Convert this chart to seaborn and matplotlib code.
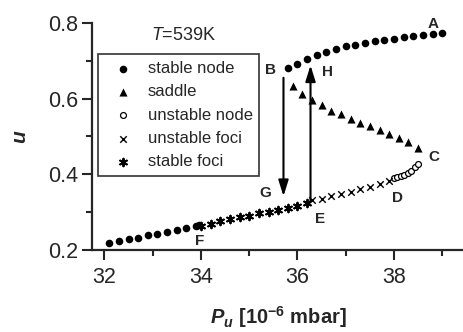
import numpy as np
import pandas as pd
import matplotlib
matplotlib.use("Agg")
import matplotlib.pyplot as plt
import seaborn as sns
from matplotlib.ticker import MultipleLocator

# ---- data ----
sn_p = [32.1, 32.3, 32.5, 32.7, 32.9, 33.1, 33.3, 33.5, 33.7, 33.9, 33.95,
        35.8, 36.0, 36.2, 36.4, 36.6, 36.8, 37.0, 37.2, 37.4, 37.6, 37.8,
        38.0, 38.2, 38.4, 38.6, 38.8, 39.0]
sn_u = [0.218, 0.223, 0.228, 0.233, 0.239, 0.243, 0.248, 0.253, 0.258, 0.263, 0.265,
        0.680, 0.691, 0.704, 0.716, 0.724, 0.730, 0.738, 0.742, 0.747, 0.751, 0.755,
        0.758, 0.762, 0.766, 0.768, 0.771, 0.774]
sd_p = [35.9, 36.1, 36.3, 36.5, 36.7, 36.9, 37.1, 37.3, 37.5, 37.7, 37.9, 38.1, 38.3, 38.5]
sd_u = [0.634, 0.611, 0.595, 0.582, 0.568, 0.559, 0.547, 0.536, 0.527, 0.516,
        0.507, 0.497, 0.485, 0.470]
un_p = [38.0, 38.07, 38.14, 38.21, 38.28, 38.35, 38.43, 38.5]
un_u = [0.389, 0.392, 0.395, 0.399, 0.404, 0.410, 0.418, 0.426]
uf_p = [36.3, 36.5, 36.7, 36.9, 37.1, 37.3, 37.5, 37.7, 37.9]
uf_u = [0.332, 0.336, 0.342, 0.348, 0.353, 0.360, 0.367, 0.374, 0.382]
sf_p = [34.0, 34.2, 34.4, 34.6, 34.8, 35.0, 35.2, 35.4, 35.6, 35.8, 36.0, 36.2]
sf_u = [0.264, 0.268, 0.277, 0.282, 0.286, 0.291, 0.297, 0.301, 0.305, 0.311, 0.316, 0.323]

point_labels = ["A", "B", "C", "D", "E", "F", "G", "H"]
label_p = [38.82, 35.45, 38.83, 38.07, 36.46, 33.97, 35.33, 36.63]
label_u = [0.797, 0.676, 0.446, 0.338, 0.282, 0.224, 0.351, 0.671]

arrow_down = (35.71, 0.655, 0.342)   # P, u_start, u_end
arrow_up = (36.27, 0.329, 0.688)

# ---- style ----
sns.set_theme(style="ticks")
plt.rcParams['font.family'] = ['Liberation Sans', 'DejaVu Sans']
plt.rcParams['mathtext.fontset'] = 'custom'
plt.rcParams['mathtext.rm'] = 'Liberation Sans'
plt.rcParams['mathtext.it'] = 'Liberation Sans:italic'
plt.rcParams['mathtext.bf'] = 'Liberation Sans:bold'
plt.rcParams['mathtext.bfit'] = 'Liberation Sans:bold:italic'

fig = plt.figure(figsize=(4.64, 3.32), dpi=100)
ax = fig.add_axes([0.199, 0.247, 0.801, 0.684])

k = dict(color='black', edgecolor='black', ax=ax, legend=True)
sns.scatterplot(x=sn_p, y=sn_u, marker='o', s=30, linewidth=0, label='stable node', **k)
sns.scatterplot(x=sd_p, y=sd_u, marker='^', s=34, linewidth=0, label='saddle', **k)
sns.scatterplot(x=un_p, y=un_u, marker='o', s=18, facecolor='white', linewidth=0.9,
                label='unstable node', ax=ax, edgecolor='black')
sns.scatterplot(x=uf_p, y=uf_u, marker='x', s=22, linewidth=1.0, label='unstable foci',
                color='black', ax=ax)
sns.scatterplot(x=sf_p, y=sf_u, marker=(6, 2, 0), s=30, linewidth=1.4, label='stable foci',
                color='black', ax=ax)

ax.set_xlim(31.75, 39.45)
ax.set_ylim(0.2, 0.8)
ax.xaxis.set_minor_locator(MultipleLocator(1))
ax.yaxis.set_minor_locator(MultipleLocator(0.1))
ax.set_xticks([32, 34, 36, 38])
ax.set_xticklabels(['32', '34', '36', '38'])
ax.set_yticks([0.2, 0.4, 0.6, 0.8])
ax.set_yticklabels(['0.2', '0.4', '0.6', '0.8'])
ax.tick_params(which='major', direction='out', length=7, width=1.5, labelsize=15.5, pad=3)
ax.tick_params(axis='x', which='major', pad=5)
ax.tick_params(which='minor', direction='out', length=4, width=1.5)
for s in ['top', 'right']:
    ax.spines[s].set_visible(False)
for s in ['left', 'bottom']:
    ax.spines[s].set_linewidth(1.6)

ax.set_xlabel(r'$\mathbfit{P}_{\mathbfit{u}}$ [10$^{\mathbf{-6}}$ mbar]',
              fontsize=14.5, fontweight='bold', labelpad=12)
ax.set_ylabel('u', fontsize=15, fontweight='bold', fontstyle='italic', labelpad=14)

ax.text(33.64, 0.768, r'$T$=539K', fontsize=13, ha='center', va='center')

for t, px, py in zip(point_labels, label_p, label_u):
    ax.text(px, py, t, fontsize=11, fontweight='bold', ha='center', va='center')

ax.annotate('', xy=(arrow_down[0], arrow_down[2]), xytext=(arrow_down[0], arrow_down[1]),
            arrowprops=dict(arrowstyle='-|>,head_length=0.8,head_width=0.25', color='black',
                            lw=1.5, mutation_scale=12, shrinkA=0, shrinkB=0))
ax.annotate('', xy=(arrow_up[0], arrow_up[2]), xytext=(arrow_up[0], arrow_up[1]),
            arrowprops=dict(arrowstyle='-|>,head_length=0.8,head_width=0.25', color='black',
                            lw=1.5, mutation_scale=12, shrinkA=0, shrinkB=0))

leg = ax.legend(loc='upper left', bbox_to_anchor=(0.014, 0.862), borderaxespad=0,
                fontsize=12, frameon=True, fancybox=False, edgecolor='black',
                labelspacing=0.5, handletextpad=0.4, handlelength=2.2,
                borderpad=0.4)
leg.get_frame().set_linewidth(1.2)

fig.savefig('out.png', dpi=100)
